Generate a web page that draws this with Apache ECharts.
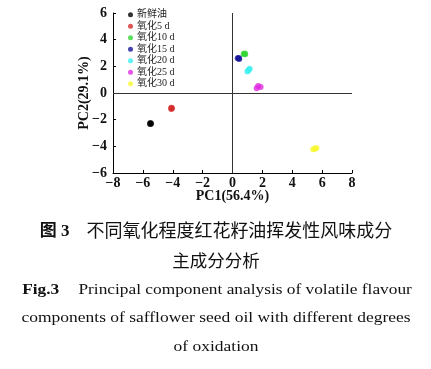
<!DOCTYPE html>
<html><head><meta charset="utf-8">
<script src="https://cdn.jsdelivr.net/npm/echarts@6/dist/echarts.min.js"></script>
<style>html,body{margin:0;padding:0;background:#fff}#c{width:431px;height:369px}</style>
</head><body><div id="c"></div>
<script>
var groupNames = ['新鲜油','氧化5 d','氧化10 d','氧化15 d','氧化20 d','氧化25 d','氧化30 d'];
var groupColors = ['#000000','#d42a2a','#33d633','#15159a','#38f0f0','#e02ae0','#f8f830'];
var fresh = [[-5.50,-2.25],[-5.45,-2.30],[-5.52,-2.32]];
var ox5 = [[-4.10,-1.10],[-4.05,-1.15],[-4.10,-1.20]];
var ox10 = [[0.75,2.92],[0.82,2.97],[0.85,2.90]];
var ox15 = [[0.35,2.60],[0.42,2.62],[0.45,2.55]];
var ox20 = [[1.00,1.62],[1.08,1.72],[1.15,1.82]];
var ox25 = [[1.62,0.36],[1.72,0.52],[1.88,0.45]];
var ox30 = [[5.40,-4.22],[5.52,-4.18],[5.62,-4.12]];
var xTicks = [-8,-6,-4,-2,0,2,4,6,8];
var yTicks = [-6,-4,-2,0,2,4,6];
var groups = [fresh, ox5, ox10, ox15, ox20, ox25, ox30];

var serif = '"Liberation Serif","Noto Sans CJK SC",serif';
var fmt = function(v){ return String(v).replace('-', '\u2212'); };

var series = groups.map(function(d,i){
  return {name: groupNames[i], type:'scatter', data:d, symbolSize:6,
    itemStyle:{color:groupColors[i]}, z:3};
});
series.push({type:'scatter', data:[], silent:true,
  markLine:{silent:true, symbol:'none', label:{show:false},
    lineStyle:{color:'#333', width:1, type:'solid'},
    data:[{xAxis:0},{yAxis:0}]}});

var chart = echarts.init(document.getElementById('c'));
chart.setOption({
  animation:false,
  grid:{left:113, top:13, width:239, height:160},
  legend:{orient:'vertical', left:128, top:9, padding:0, itemGap:0, itemWidth:5, itemHeight:5,
    icon:'circle', data:groupNames,
    textStyle:{fontFamily:serif, fontSize:10, lineHeight:11.5, height:11.5, color:'#222', padding:[0,0,0,-1]}},
  xAxis:{type:'value', min:-8, max:8, interval:2,
    axisLine:{onZero:false, lineStyle:{color:'#000', width:1}},
    axisTick:{inside:true, length:3, lineStyle:{color:'#000'}},
    splitLine:{show:false},
    axisLabel:{margin:3, formatter:fmt, fontFamily:serif, fontSize:14, fontWeight:'bold', color:'#111'},
    name:'PC1(56.4%)', nameLocation:'middle', nameGap:16, nameMoveOverlap:false,
    nameTextStyle:{fontFamily:serif, fontSize:14, fontWeight:'bold', color:'#111'}},
  yAxis:{type:'value', min:-6, max:6, interval:2,
    axisLine:{onZero:false, lineStyle:{color:'#000', width:1}},
    axisTick:{inside:true, length:3, lineStyle:{color:'#000'}},
    splitLine:{show:false},
    axisLabel:{margin:6, formatter:fmt, fontFamily:serif, fontSize:14, fontWeight:'bold', color:'#111'},
    name:'PC2(29.1%)', nameLocation:'middle', nameGap:22, nameRotate:90, nameMoveOverlap:false,
    nameTextStyle:{fontFamily:serif, fontSize:14, fontWeight:'bold', color:'#111'}},
  series: series,
  graphic:[
    {type:'text', x:216, y:232, style:{x:0, y:0, align:'center', verticalAlign:'middle',
      text:'{b|图 3}{s|}{n|不同氧化程度红花籽油挥发性风味成分}',
      rich:{b:{fontFamily:serif, fontSize:17, fontWeight:'bold', fill:'#111'},
            s:{width:17, fontSize:17}, n:{fontFamily:serif, fontSize:18, fill:'#111'}}}},
    {type:'text', x:216, y:262, style:{x:0, y:0, align:'center', verticalAlign:'middle',
      text:'主成分分析', font:'17.5px '+serif, fill:'#111'}},
    {type:'text', x:217, y:290, scaleX:1.155, style:{x:0, y:0, align:'center', verticalAlign:'middle',
      text:'{b|Fig.3}{s|    }{n|Principal component analysis of volatile flavour}',
      rich:{b:{fontFamily:serif, fontSize:15, fontWeight:'bold', fill:'#111'},
            s:{fontSize:15}, n:{fontFamily:serif, fontSize:15, fill:'#111'}}}},
    {type:'text', x:216, y:318, scaleX:1.165, style:{x:0, y:0, align:'center', verticalAlign:'middle',
      text:'components of safflower seed oil with different degrees', font:'15px '+serif, fill:'#111'}},
    {type:'text', x:216, y:347, scaleX:1.165, style:{x:0, y:0, align:'center', verticalAlign:'middle',
      text:'of oxidation', font:'15px '+serif, fill:'#111'}}
  ]
});
</script></body></html>
